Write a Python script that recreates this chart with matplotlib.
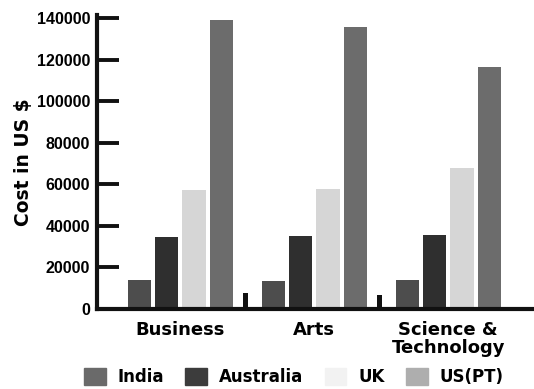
import numpy as np
import matplotlib.pyplot as plt

# data
categories = ['Business', 'Arts', 'Science &\nTechnology']
series_names = ['India', 'Australia', 'UK', 'US(PT)']
india = [14000, 13500, 14000]
australia = [34500, 35000, 35500]
uk = [57000, 57500, 68000]
us_pt = [139000, 135500, 116500]
thin_marks = [0, 7800, 6800]   # little black marks left of the groups

colors = ['#4d4d4d', '#2f2f2f', '#d6d6d6', '#6c6c6c']
legend_colors = ['#6a6a6a', '#3c3c3c', '#f2f2f2', '#aeaeae']

plt.rcParams['font.family'] = ['DejaVu Sans']

fig = plt.figure(figsize=(5.34, 3.89), dpi=100)
ax = fig.add_axes([0.182, 0.206, 0.818, 0.755])

x = np.arange(len(categories))
step = 0.205
width = 0.172
values = [india, australia, uk, us_pt]
for i, vals in enumerate(values):
    ax.bar(x + (i - 1.5) * step, vals, width=width, color=colors[i])
ax.bar(x - 2.5 * step, thin_marks, width=0.032, color='#111111')

ax.set_xlim(-0.62, 2.64)
ax.set_ylim(0, 141400)
ax.set_yticks(range(0, 140001, 20000))
ax.set_yticklabels([str(v) for v in range(0, 140001, 20000)],
                   family='Liberation Sans', fontsize=11.5, fontweight='bold')
ax.set_xticks(x)
ax.set_xticklabels(categories, fontsize=13, fontweight='bold', linespacing=0.95,
                   va='top')
ax.tick_params(axis='x', length=0, pad=9)
ax.tick_params(axis='y', direction='in', length=16, width=2.8, pad=5, color='#111111')

for s in ['top', 'right']:
    ax.spines[s].set_visible(False)
ax.spines['left'].set_linewidth(3)
ax.spines['bottom'].set_linewidth(3)
ax.spines['left'].set_color('#111111')
ax.spines['bottom'].set_color('#111111')

ax.set_ylabel('Cost in US $', fontsize=13.5, fontweight='bold', labelpad=3)

handles = [plt.Rectangle((0, 0), 1, 1, color=c) for c in legend_colors]
fig.legend(handles, series_names, loc='center', bbox_to_anchor=(0.55, 0.03),
           ncol=4, frameon=False, prop={'size': 12, 'weight': 'bold'},
           handlelength=1.3, handleheight=1.2, handletextpad=0.7,
           columnspacing=1.3, borderaxespad=0)

fig.savefig('out.png', dpi=100)
